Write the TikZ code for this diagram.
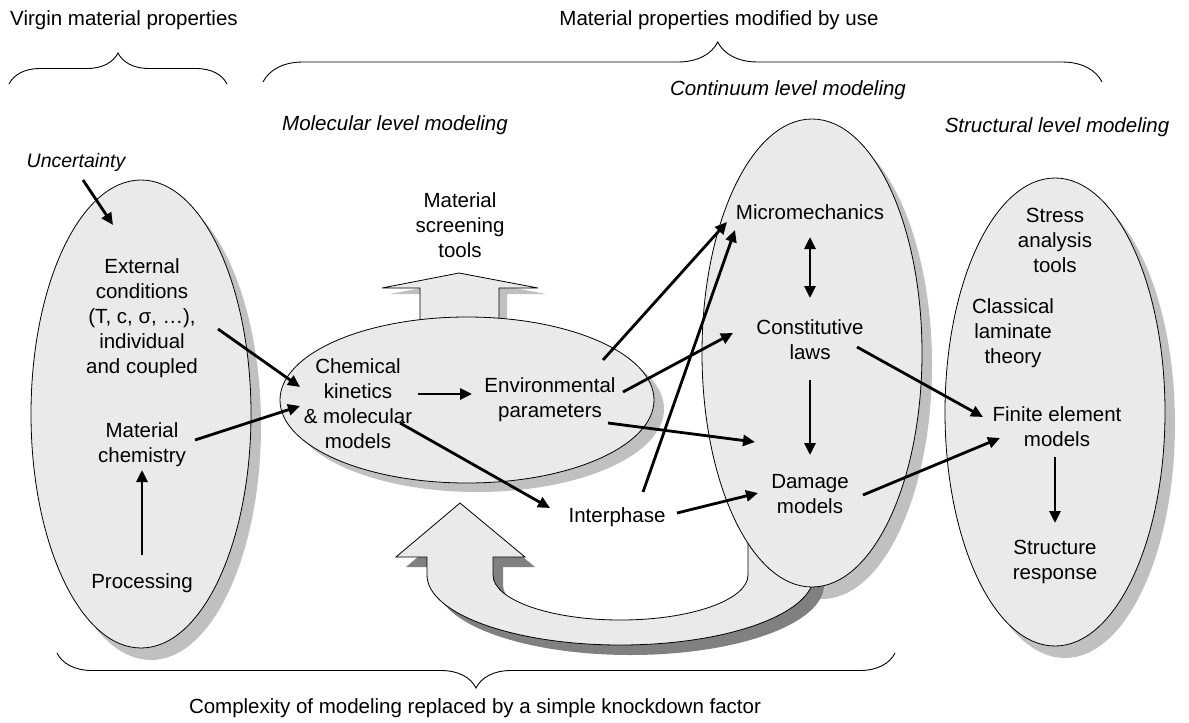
\documentclass[tikz,border=0pt]{standalone}
\usepackage{fontspec}
\setmainfont{Liberation Sans}
\usetikzlibrary{arrows.meta,shapes.geometric,shadows,decorations.pathreplacing}
\definecolor{cellfill}{HTML}{EAEAEA}
\definecolor{shadelight}{HTML}{C0C0C0}
\definecolor{shadedark}{HTML}{808080}

\begin{document}
\begin{tikzpicture}[
    x=1pt, y=-1pt, >={Triangle[length=12pt,width=11pt]},
    font=\fontsize{20.5}{25}\selectfont,
    lbl/.style={align=center, inner sep=1pt},
    title/.style={lbl, font=\fontsize{20.5}{25}\selectfont\itshape},
    arr/.style={->, line width=2.8pt},
    tallbody/.style={draw, line width=0.8pt, fill=cellfill, ellipse, inner sep=0pt,
      minimum width=220pt, minimum height=468pt},
    tallell/.style={tallbody,
      drop shadow={shadow xshift=10pt, shadow yshift=-12pt, fill=shadelight, opacity=1}},
    blockarr/.style={draw, line width=0.8pt, fill=cellfill},
    brace/.style={decorate, line width=0.9pt},
  ]
  \useasboundingbox (0,0) rectangle (1189,723);

  % headings and braces
  \node[lbl] (virgin) at (124,20) {Virgin material properties};
  \node[lbl] (modified) at (719,20) {Material properties modified by use};
  \draw[brace, decoration={brace, amplitude=31pt}] (9,84) -- (227,84);
  \draw[brace, decoration={brace, amplitude=40pt, aspect=0.542}] (263,82) -- (1102,82);
  \draw[brace, decoration={brace, amplitude=35pt}] (895,653) -- (57,653);
  \node[lbl] (complexity) at (475,708) {Complexity of modeling replaced by a simple knockdown factor};

  \node[title] (contitle) at (788,90) {Continuum level modeling};
  \node[title] (moltitle) at (395,125) {Molecular level modeling};
  \node[title] (structitle) at (1057,127) {Structural level modeling};
  \node[title, font=\fontsize{19.5}{23}\selectfont\itshape] (uncert) at (76,162) {Uncertainty};

  % the big level ellipses
  \node[tallell] (virginell) at (141,414) {};
  \node[tallell] (structell) at (1055,412) {};

  % screening arrow out of the molecular ellipse
  \path[blockarr, drop shadow={shadow xshift=8pt, shadow yshift=-6pt, fill=shadelight, opacity=1}]
    (420,330) -- (420,288) -- (382,288) -- (459,273) -- (538,288) -- (499,288) -- (499,330) -- cycle;
  \node[draw, line width=0.8pt, fill=cellfill, ellipse, inner sep=0pt,
    minimum width=374pt, minimum height=166pt,
    drop shadow={shadow xshift=10pt, shadow yshift=-9pt, fill=shadelight, opacity=1}]
    (molell) at (467,400) {};

  % feedback arrow, tucked under the continuum ellipse
  \fill[shadelight] (822,365) ellipse [x radius=110pt, y radius=234pt];
  \path[blockarr, drop shadow={shadow xshift=10pt, shadow yshift=-10pt, fill=shadedark, opacity=1}]
    (460,503) -- (525,557) -- (493,557) -- (493,575)
    arc[start angle=180, end angle=360, x radius=127.5pt, y radius=45pt]
    -- (748,530) -- (814,530) -- (814,575)
    arc[start angle=0, end angle=-180, x radius=193.5pt, y radius=70pt]
    -- (427,557) -- (396,557) -- cycle;
  \node[tallbody] (contell) at (812,353) {};

  % virgin material
  \node[lbl] (extcond) at (142,318) {External\\conditions\\(T, c, σ, …),\\individual\\and coupled};
  \node[lbl] (matchem) at (142,445) {Material\\chemistry};
  \node[lbl] (processing) at (142,583) {Processing};

  % molecular level
  \node[lbl] (screening) at (460,225) {Material\\screening\\tools};
  \node[lbl] (chem) at (358,404) {Chemical\\kinetics\\\& molecular\\models};
  \node[lbl] (envpar) at (550,400) {Environmental\\parameters};
  \node[lbl] (interphase) at (617,517) {Interphase};

  % continuum level
  \node[lbl] (micro) at (810,212) {Micromechanics};
  \node[lbl] (constit) at (810,340) {Constitutive\\laws};
  \node[lbl] (damage) at (810,494) {Damage\\models};

  % structural level
  \node[lbl] (stress) at (1055,240) {Stress\\analysis\\tools};
  \node[lbl] (classical) at (1013,333) {Classical\\laminate\\theory};
  \node[lbl] (finite) at (1057,427) {Finite element\\models};
  \node[lbl] (response) at (1055,562) {Structure\\response};

  % connectors
  \draw[arr] ([shift={(7,18)}]uncert.center) -- ([shift={(-28,-189)}]virginell.center);
  \draw[arr] ([shift={(76,11)}]extcond.center) -- ([shift={(-58,-17)}]chem.center);
  \draw[arr] ([shift={(53,-5)}]matchem.center) -- ([shift={(-58,2)}]chem.center);
  \draw[arr] ([shift={(0,-28)}]processing.center) -- ([shift={(0,25)}]matchem.center);
  \draw[arr] ([shift={(60,-10)}]chem.center) -- ([shift={(-78,-6)}]envpar.center);
  \draw[arr] ([shift={(42,19)}]chem.center) -- ([shift={(-67,-9)}]interphase.center);
  \draw[arr] ([shift={(53,-40)}]envpar.center) -- ([shift={(-83,10)}]micro.center);
  \draw[arr] ([shift={(73,-8)}]envpar.center) -- ([shift={(-77,-7)}]constit.center);
  \draw[arr] ([shift={(58,23)}]envpar.center) -- ([shift={(-55,-52)}]damage.center);
  \draw[arr] ([shift={(26,-25)}]interphase.center) -- ([shift={(-75,18)}]micro.center);
  \draw[arr] ([shift={(60,-4)}]interphase.center) -- ([shift={(-52,-1)}]damage.center);
  \draw[arr, <->] ([shift={(0,25)}]micro.center) -- ([shift={(0,-42)}]constit.center);
  \draw[arr] ([shift={(0,40)}]constit.center) -- ([shift={(0,-39)}]damage.center);
  \draw[arr] ([shift={(47,7)}]constit.center) -- ([shift={(-74,-10)}]finite.center);
  \draw[arr] ([shift={(53,1)}]damage.center) -- ([shift={(-57,11)}]finite.center);
  \draw[arr] ([shift={(-2,30)}]finite.center) -- ([shift={(0,-39)}]response.center);

\end{tikzpicture}
\end{document}
